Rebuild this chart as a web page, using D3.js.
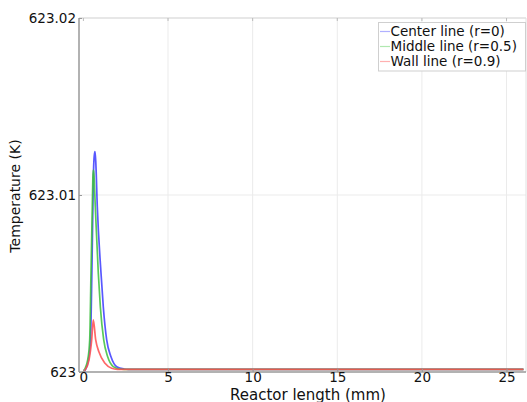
<!DOCTYPE html>
<html><head><meta charset="utf-8">
<script src="https://cdn.jsdelivr.net/npm/d3@7"></script>
<style>body{margin:0;background:#fff}svg{display:block}text{font-family:"DejaVu Sans",sans-serif}</style>
</head><body><svg id="c" width="527" height="402"></svg>
<script>
const seriesNames = ["Center line (r=0)", "Middle line (r=0.5)", "Wall line (r=0.9)"];
const seriesColors = ["#3b3bff", "#3cc03c", "#ff4d4d"];
const legendColors = ["#b0b0ff", "#b0e8b0", "#ffb0b0"];
const centerX = [0, 0.10, 0.30, 0.42, 0.50, 0.56, 0.60, 0.64, 0.685, 0.73, 0.821, 1.04, 1.175, 1.376, 1.63, 1.967, 2.4, 2.65, 26];
const centerT = [623, 623.0001, 623.0007, 623.0018, 623.0056, 623.0093, 623.0114, 623.0122, 623.01245, 623.0119, 623.00934, 623.00559, 623.00369, 623.00181, 623.00086, 623.0003, 623.00017, 623.00015, 623.00015];
const middleX = [0, 0.053, 0.254, 0.372, 0.449, 0.526, 0.56, 0.585, 0.62, 0.703, 0.88, 1.0, 1.2, 1.435, 1.766, 2.1, 2.4, 26];
const middleT = [623, 623.00011, 623.00068, 623.00181, 623.00559, 623.00934, 623.0110, 623.01141, 623.0112, 623.00934, 623.00559, 623.00369, 623.00181, 623.00086, 623.0003, 623.00017, 623.00015, 623.00015];
const wallX = [0, 0.095, 0.33, 0.49, 0.585, 0.727, 0.92, 1.276, 1.67, 2.0, 26];
const wallT = [623, 623.00011, 623.00068, 623.00181, 623.00294, 623.00181, 623.00113, 623.00049, 623.00021, 623.00015, 623.00015];
const xTicks = [0, 5, 10, 15, 20, 25];
const yTicks = [623, 623.01, 623.02];
const yTickLabels = ["623", "623.01", "623.02"];

const series = [[centerX, centerT], [middleX, middleT], [wallX, wallT]].map(([xs, ts], i) => ({
  name: seriesNames[i], color: seriesColors[i], pts: xs.map((x, j) => [x, ts[j]])
}));

const svg = d3.select("#c");
const L = 79, R = 526, T = 18, B = 372;
const x = d3.scaleLinear().domain([-0.26, 26.15]).range([L, R]);
const y = d3.scaleLinear().domain([623, 623.02]).range([B, T]);

// grid
svg.append("g").selectAll("line").data(xTicks.filter(d => d > 0)).join("line")
  .attr("x1", d => x(d)).attr("x2", d => x(d)).attr("y1", T).attr("y2", B)
  .attr("stroke", "#ebebeb").attr("stroke-width", 1);
svg.append("g").selectAll("line").data([623.01]).join("line")
  .attr("x1", L).attr("x2", R).attr("y1", d => y(d)).attr("y2", d => y(d))
  .attr("stroke", "#ebebeb").attr("stroke-width", 1);

// frame
svg.append("line").attr("x1", L).attr("x2", R).attr("y1", T).attr("y2", T).attr("stroke", "#cfcfcf");
svg.append("line").attr("x1", R).attr("x2", R).attr("y1", T).attr("y2", B).attr("stroke", "#e0e0e0");

// lines
const line = d3.line().x(d => x(d[0])).y(d => y(d[1])).curve(d3.curveMonotoneX);
svg.append("g").selectAll("path").data(series).join("path")
  .attr("d", d => line(d.pts)).attr("fill", "none")
  .attr("stroke", d => d.color).attr("stroke-width", 1.7).attr("stroke-opacity", 0.85)
  .attr("stroke-linejoin", "round");

// axes
const xAxis = d3.axisBottom(x).tickValues(xTicks).tickSize(-3).tickPadding(3).tickFormat(d3.format("d"));
const gx = svg.append("g").attr("transform", `translate(0,${B})`).call(xAxis);
gx.select(".domain").attr("d", `M${L},0H${R}`).attr("stroke", "#999").attr("stroke-width", 1.5);
gx.selectAll(".tick line").attr("stroke", "#999");
gx.selectAll("text").attr("font-size", 13.5).attr("fill", "#111").attr("font-family", "DejaVu Sans").attr("dy", "0.5em");

const yAxis = d3.axisLeft(y).tickValues(yTicks).tickSize(-3).tickPadding(3).tickFormat((d, i) => yTickLabels[i]);
const gy = svg.append("g").attr("transform", `translate(${L},0)`).call(yAxis);
gy.select(".domain").attr("d", `M0,${T}V${B}`).attr("stroke", "#999").attr("stroke-width", 1.5);
gy.selectAll(".tick line").attr("stroke", "#999");
gy.selectAll("text").attr("font-size", 13.5).attr("fill", "#111").attr("font-family", "DejaVu Sans");

// top ticks
svg.append("g").selectAll("line").data(xTicks).join("line")
  .attr("x1", d => x(d)).attr("x2", d => x(d)).attr("y1", T).attr("y2", T + 3).attr("stroke", "#bbb");

// axis titles
svg.append("text").attr("x", 308).attr("y", 399.5).attr("text-anchor", "middle")
  .attr("font-size", 15).attr("fill", "#111").text("Reactor length (mm)");
svg.append("text").attr("transform", "translate(20,196) rotate(-90)").attr("text-anchor", "middle")
  .attr("font-size", 14).attr("fill", "#111").text("Temperature (K)");

// legend
const lg = svg.append("g");
lg.append("rect").attr("x", 378.5).attr("y", 22.5).attr("width", 147).attr("height", 48.5)
  .attr("fill", "#fff").attr("stroke", "#cfcfcf");
series.forEach((s, i) => {
  const yy = 31.5 + i * 15;
  lg.append("line").attr("x1", 380).attr("x2", 390).attr("y1", yy).attr("y2", yy)
    .attr("stroke", legendColors[i]).attr("stroke-width", 1.2);
  lg.append("text").attr("x", 390.5).attr("y", yy).attr("dy", "0.35em")
    .attr("font-size", 13.5).attr("fill", "#111").text(s.name);
});
</script></body></html>
